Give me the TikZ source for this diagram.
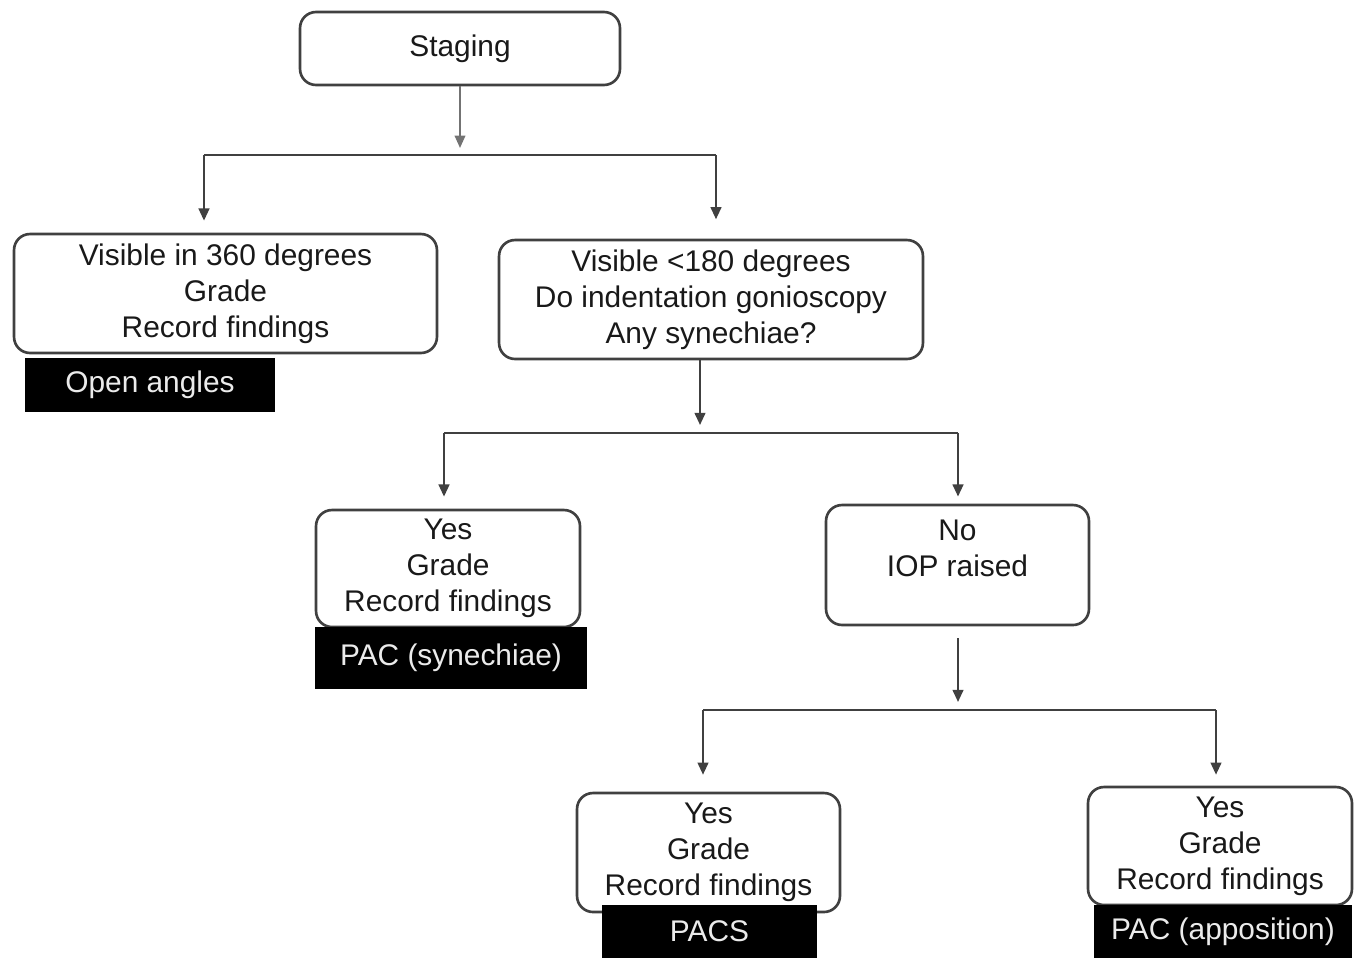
\documentclass[tikz,border=0pt]{standalone}
\usepackage{fontspec}
\setmainfont{Liberation Sans}
\usetikzlibrary{arrows.meta,calc}
\begin{document}
\begin{tikzpicture}[x=0.02cm,y=-0.02cm,
  every node/.style={font=\fontsize{17}{20.4}\selectfont},
  rbox/.style={draw=black!75,line width=1.5pt,rounded corners=0.32cm,fill=white,align=center,inner sep=0pt,text=black!90},
  bbox/.style={fill=black,text=black!8,inner sep=0pt,align=center},
  conn/.style={draw=black!75,line width=1.5pt},
  arr/.style={conn,-{Triangle[length=7pt,width=6pt]}},
  plain/.style={align=center,inner sep=0pt,text=black!90}]
\useasboundingbox (0,0) rectangle (1355,958);
% boxes
\node[rbox,minimum width=6.4cm,minimum height=1.46cm] (staging) at (460,48.5) {Staging};
\node[rbox,minimum width=8.46cm,minimum height=2.38cm] (left) at (225.5,293.5) {Visible in 360 degrees\\Grade\\Record findings};
\node[rbox,minimum width=8.48cm,minimum height=2.38cm] (mid) at (711,299.5) {Visible <180 degrees\\Do indentation gonioscopy\\Any synechiae?};
\node[rbox,minimum width=5.28cm,minimum height=2.34cm] (yes1) at (448,568.5) {Yes\\Grade\\Record findings};
\node[rbox,minimum width=5.26cm,minimum height=2.4cm] (no) at (957.5,565) {};
\node[plain] (notext) at (957.5,548) {No\\IOP raised};
\node[rbox,minimum width=5.26cm,minimum height=2.38cm] (yes2) at (708.5,852.5) {Yes\\Grade\\Record findings};
\node[rbox,minimum width=5.28cm,minimum height=2.36cm] (yes3) at (1220,846) {Yes\\Grade\\Record findings};
% black labels
\node[bbox,minimum width=5.0cm,minimum height=1.08cm] (open) at (150,385) {Open angles};
\node[bbox,minimum width=5.44cm,minimum height=1.24cm] (pacs1) at (451,658) {PAC (synechiae)};
\node[bbox,minimum width=4.3cm,minimum height=1.06cm] (pacs) at (709.5,931.5) {PACS};
\node[bbox,minimum width=5.16cm,minimum height=1.06cm] (paca) at (1223,931.5) {PAC (apposition)};
% connectors level 1
\coordinate (b1) at (460,155);
\coordinate (b1L) at (204,155);
\coordinate (b1R) at (716,155);
\draw[arr,draw=black!55,line width=1pt,shorten >=4pt] (staging.south) -- (b1);
\draw[conn] (b1L) -- (b1R);
\draw[arr,shorten >=6.8pt] (b1L) -- (b1L |- left.north);
\draw[arr,shorten >=11pt] (b1R) -- (b1R |- mid.north);
% level 2
\coordinate (b2) at (700,433);
\coordinate (b2L) at (444,433);
\coordinate (b2R) at (958,433);
\draw[arr,shorten >=4.5pt] (b2 |- mid.south) -- (b2);
\draw[conn] (b2L) -- (b2R);
\draw[arr,shorten >=6.8pt] (b2L) -- (b2L |- yes1.north);
\draw[arr,shorten >=4pt] (b2R) -- (b2R |- no.north);
% level 3
\coordinate (b3) at (958,710);
\coordinate (b3L) at (703,710);
\coordinate (b3R) at (1216,710);
\draw[arr,shorten <=6.8pt,shorten >=4.5pt] (b3 |- no.south) -- (b3);
\draw[conn] (b3L) -- (b3R);
\draw[arr,shorten >=9.6pt] (b3L) -- (b3L |- yes2.north);
\draw[arr,shorten >=6.2pt] (b3R) -- (b3R |- yes3.north);
\end{tikzpicture}
\end{document}
